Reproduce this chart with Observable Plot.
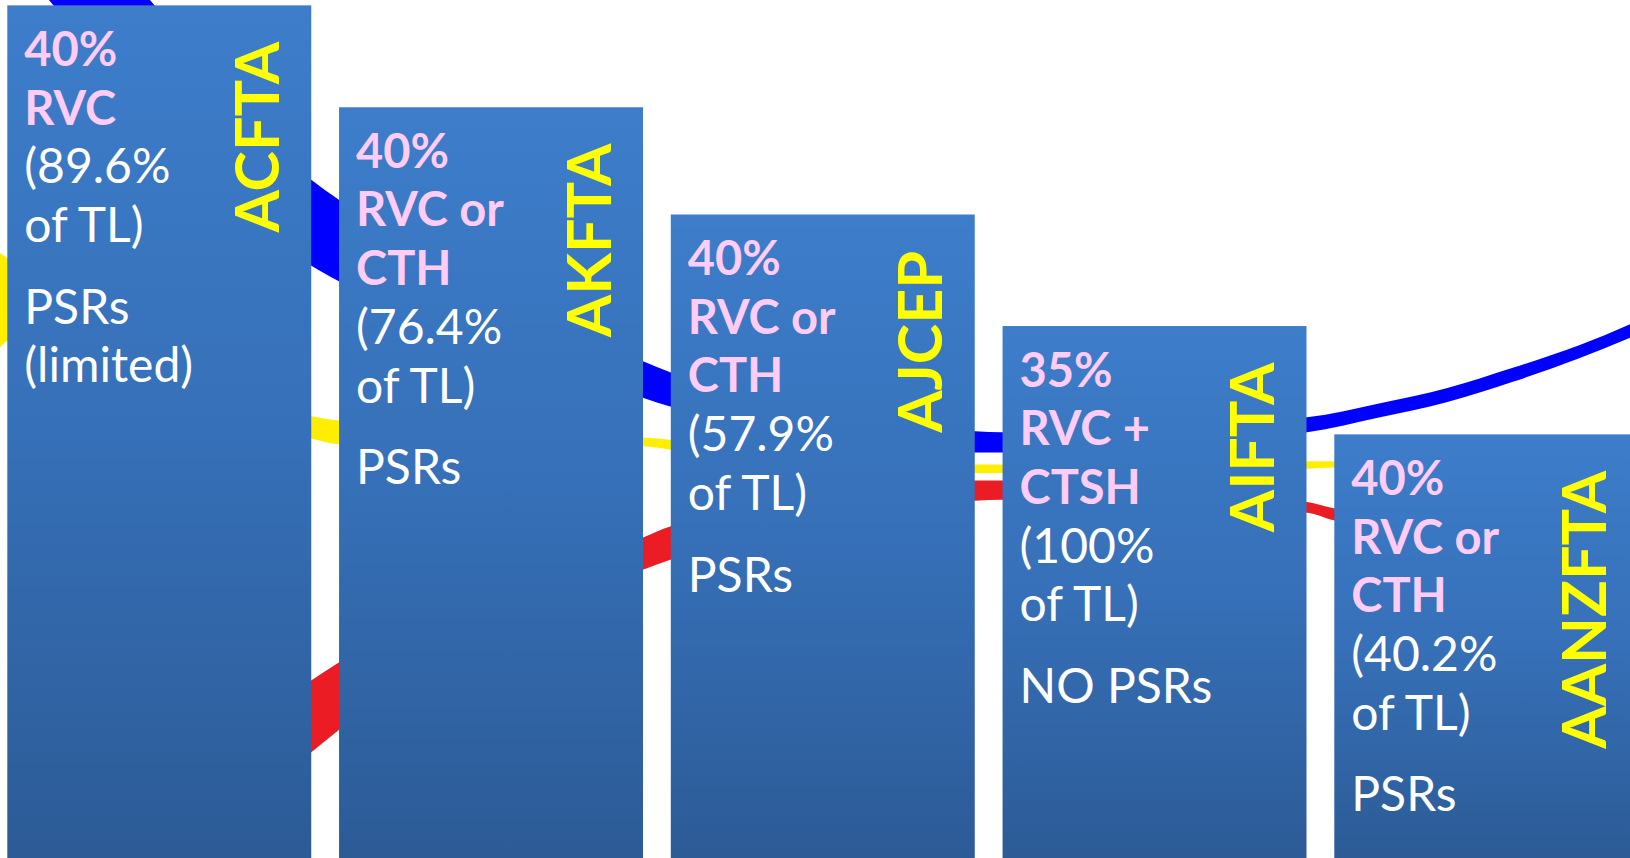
<!DOCTYPE html>
<html>
<head>
<meta charset="utf-8">
<script src="https://cdn.jsdelivr.net/npm/d3@7"></script>
<script src="https://cdn.jsdelivr.net/npm/@observablehq/plot@0.6"></script>
<style>
  html, body { margin: 0; padding: 0; background: #ffffff; overflow: hidden; }
  #chart svg { display: block; }
</style>
</head>
<body>
<div id="chart"></div>
<script>
// ---------- data ----------
const agreements = ["ACFTA", "AKFTA", "AJCEP", "AIFTA", "AANZFTA"];
const stepHeights = [7.95, 7.0, 6.0, 4.96, 3.95];
const ruleLines = [
  ["40%", "RVC"],
  ["40%", "RVC or", "CTH"],
  ["40%", "RVC or", "CTH"],
  ["35%", "RVC +", "CTSH"],
  ["40%", "RVC or", "CTH"]
];
const coverage = ["(89.6%", "(76.4%", "(57.9%", "(100%", "(40.2%"];
const coverageSuffix = "of TL)";
const psrNotes = [["PSRs", "(limited)"], ["PSRs"], ["PSRs"], ["NO PSRs"], ["PSRs"]];

// decorative background ribbons (upper and lower edge of each band)
const blueX      = [0.14, 0.472, 0.96, 1.04, 1.96, 2.04, 2.96, 3.04, 3.96, 4.18, 4.38, 4.58, 4.78, 4.98];
const blueTop    = [9.23, 8.00, 6.32, 6.14, 4.63, 4.53, 3.98, 3.97, 4.11, 4.24, 4.38, 4.57, 4.78, 5.04];
const blueBottom = [8.10, 6.93, 5.52, 5.38, 4.29, 4.21, 3.78, 3.78, 3.97, 4.11, 4.25, 4.44, 4.66, 4.91];

const yellowX      = [-0.01, 0.02, 0.044, 0.96, 1.04, 1.96, 2.04, 2.96, 3.04, 3.96, 4.04, 4.98];
const yellowTop    = [5.71, 5.64, 5.59, 4.12, 4.08, 3.92, 3.90, 3.67, 3.67, 3.70, 3.70, 3.76];
const yellowBottom = [4.68, 4.76, 4.82, 3.91, 3.86, 3.84, 3.81, 3.59, 3.59, 3.63, 3.64, 3.69];

const redX      = [0.14, 0.47, 0.96, 1.04, 1.96, 2.04, 2.96, 3.04, 3.96, 4.04, 4.98];
const redTop    = [-0.39, 0.54, 1.66, 1.82, 2.99, 3.09, 3.52, 3.52, 3.32, 3.26, 2.97];
const redBottom = [-1.23, -0.30, 0.99, 1.19, 2.69, 2.78, 3.33, 3.34, 3.22, 3.15, 2.85];

// ---------- layout ----------
const W = 1630, H = 858;
const pxPerX = 331.75;               // one bar slot
const pxPerY = H / 8;                // one height unit
const x0px = -6.6;
const barInset = 13.9;

const bars = agreements.map((name, i) => ({i, name, h: stepHeights[i]}));

const band = (xs, tops, bottoms) => xs.map((x, k) => ({x, y1: bottoms[k], y2: tops[k]}));

const textRows = [];
bars.forEach(b => {
  const lines = [
    ...ruleLines[b.i].map(t => ({t, kind: "rule"})),
    {t: coverage[b.i], kind: "cov"},
    {t: coverageSuffix, kind: "cov"},
    ...psrNotes[b.i].map(t => ({t, kind: "psr"}))
  ];
  lines.forEach((l, k) => {
    const off = 60 + k * 58.7 + (l.kind === "psr" ? 23 : 0);
    textRows.push({
      x: b.i + (barInset + 16.5) / pxPerX,
      y: b.h - off / pxPerY,
      text: l.t,
      kind: l.kind
    });
  });
});

const labelRows = bars.map(b => ({
  x: b.i + 0.5 + 99.5 / pxPerX,
  y: b.h - 36 / pxPerY,
  name: b.name
}));

const chart = Plot.plot({
  width: W,
  height: H,
  margin: 0,
  style: {background: "#ffffff"},
  x: {type: "linear", domain: [0, 5], range: [x0px, x0px + 5 * pxPerX], axis: null},
  y: {type: "linear", domain: [0, 8], range: [H, 0], axis: null},
  marks: [
    Plot.areaY(band(blueX, blueTop, blueBottom), {x: "x", y1: "y1", y2: "y2", fill: "#0000ff", curve: "monotone-x", clip: true}),
    Plot.areaY(band(yellowX, yellowTop, yellowBottom), {x: "x", y1: "y1", y2: "y2", fill: "#ffee00", curve: "monotone-x", clip: true}),
    Plot.areaY(band(redX, redTop, redBottom), {x: "x", y1: "y1", y2: "y2", fill: "#ec1c24", curve: "monotone-x", clip: true}),
    Plot.rect(bars, {
      x1: d => d.i, x2: d => d.i + 1, y1: d => 0, y2: "h",
      insetLeft: barInset, insetRight: barInset,
      fill: "url(#barFill)", clip: true
    }),
    Plot.text(textRows.filter(d => d.kind === "rule"), {
      x: "x", y: "y", text: "text",
      fill: "#ffccf5", fontWeight: "bold", fontSize: 47, fontFamily: "Lato",
      textAnchor: "start", lineAnchor: "bottom"
    }),
    Plot.text(textRows.filter(d => d.kind !== "rule"), {
      x: "x", y: "y", text: "text",
      fill: "#ffffff", fontWeight: "normal", fontSize: 48, fontFamily: "Lato",
      textAnchor: "start", lineAnchor: "bottom"
    }),
    Plot.text(labelRows, {
      x: "x", y: "y", text: "name", rotate: -90,
      fill: "#ffff00", fontWeight: "bold", fontSize: 61, fontFamily: "Lato",
      textAnchor: "end"
    })
  ]
});

const defs = d3.select(chart).insert("defs", ":first-child");
const grad = defs.append("linearGradient")
  .attr("id", "barFill").attr("x1", 0).attr("y1", 0).attr("x2", 0).attr("y2", 1);
grad.append("stop").attr("offset", "0%").attr("stop-color", "#3d7dca");
grad.append("stop").attr("offset", "50%").attr("stop-color", "#3670b8");
grad.append("stop").attr("offset", "100%").attr("stop-color", "#2c5b96");

document.getElementById("chart").appendChild(chart);
</script>
</body>
</html>
